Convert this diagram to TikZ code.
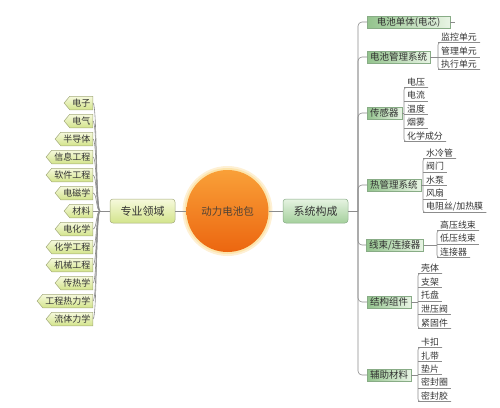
\documentclass[tikz,border=0pt]{standalone}
\usepackage{fontspec}
\setmainfont{Noto Sans CJK SC}
\usetikzlibrary{shapes.symbols}
\definecolor{lineg}{HTML}{8C8C8C}
\definecolor{txt}{HTML}{333333}
\definecolor{leaftop}{HTML}{F6F9DC}
\definecolor{leafbot}{HTML}{D3E48C}
\definecolor{leafdraw}{HTML}{A4AC7C}
\definecolor{sysL}{HTML}{E6F3E2}
\definecolor{sysD}{HTML}{A4D09C}
\definecolor{sysdraw}{HTML}{88AC86}
\definecolor{catL}{HTML}{93C38D}
\definecolor{catR}{HTML}{E8F4E4}
\definecolor{orT}{HTML}{F9A038}
\definecolor{orB}{HTML}{EC6610}
\tikzset{
  conn/.style={draw=lineg, line width=0.6pt},
  leaf/.style={signal, signal to=west, signal pointer angle=100, anchor=east,
    top color=leaftop, bottom color=leafbot, draw=leafdraw, line width=0.5pt,
    inner xsep=2.5pt, inner ysep=1pt, minimum height=13.5pt, text=txt,
    font=\fontsize{9}{10}\selectfont},
  midbox/.style={rectangle, rounded corners=3pt, top color=leaftop, bottom color=leafbot,
    draw=leafdraw, line width=0.5pt, minimum width=65pt, minimum height=24pt, text=txt,
    font=\fontsize{11}{12}\selectfont},
  sysbox/.style={rectangle, rounded corners=3pt, top color=sysL, bottom color=sysD,
    draw=sysdraw, line width=0.5pt, minimum width=65pt, minimum height=24pt, text=txt,
    font=\fontsize{11}{12}\selectfont},
  core/.style={circle, minimum size=82pt, top color=orT, bottom color=orB, text=txt!80!brown,
    font=\fontsize{10.5}{12}\selectfont},
  cat/.style={rectangle, anchor=west, left color=catL, right color=catR, draw=sysdraw,
    line width=0.4pt, inner xsep=3pt, inner ysep=1pt, minimum height=12pt, text=txt,
    font=\fontsize{9.5}{10}\selectfont},
  sub/.style={anchor=south west, inner xsep=3pt, inner ysep=1.2pt, text=txt,
    font=\fontsize{8.9}{10}\selectfont}
}
\begin{document}
\begin{tikzpicture}[x=1pt,y=-1pt]
\useasboundingbox (0,0) rectangle (500,407);
% halo
\fill[yellow!30!orange!15] (227.5,211) circle (45);
\fill[yellow!40!orange!30] (227.5,211) circle (43);
\node[core] (core) at (227.5,211) {动力电池包};
\node[midbox] (zy) at (142.5,211) {专业领域};
\node[sysbox] (xt) at (315.5,211) {系统构成};
\draw[conn] (zy.east) -- (core.west);
\draw[conn] (core.east) -- (xt.west);
\coordinate (LJ) at (100,211);
\coordinate (RJ) at (358,211);
\draw[conn] (zy.west) -- (LJ);
\draw[conn] (xt.east) -- (RJ);
% left leaves
\foreach \t/\y [count=\i] in {电子/103,电气/121,半导体/139,信息工程/157,软件工程/175,电磁学/193,材料/211,电化学/229,化学工程/247,机械工程/265,传热学/283,工程热力学/301,流体力学/319}{
  \node[leaf] (L\i) at (93,\y) {\t};
  \draw[conn] (LJ) .. controls (96,211) and (97,\y) .. (L\i.east);
}
% right categories
\node[cat, minimum width=83pt] (c1) at (367,22) {电池单体(电芯)};
\node[cat] (c2) at (367,57) {电池管理系统};
\node[cat] (c3) at (367,113) {传感器};
\node[cat] (c4) at (367,185) {热管理系统};
\node[cat] (c5) at (366,245) {线束/连接器};
\node[cat] (c6) at (367,302) {结构组件};
\node[cat] (c7) at (367,375) {辅助材料};
\foreach \i in {1,...,7}{
  \draw[conn, rounded corners=4pt] (RJ) |- (c\i.west);
}
\draw[conn] (c1.east) -- ++(5,0);
% children
\newcommand{\subgroup}[3]{% #1 group name, #2 bracket x, #3 list text/y
  \foreach \t/\y [count=\k] in {#3}{
    \node[sub] (#1s\k) at (#2,\y) {\t};
    \draw[conn] (#1s\k.south west) -- (#1s\k.south east);
  }
}
\subgroup{b}{438}{监控单元/42.5,管理单元/57,执行单元/69.5}
\draw[conn, rounded corners=2.5pt] (bs1.south east) -- (bs1.south west) -- (bs3.south west) -- (bs3.south east);
\draw[conn] (c2.east) -- (c2.east -| bs1.south west);
\subgroup{s}{404}{电压/87.5,电流/101,温度/114.5,烟雾/128,化学成分/141.5}
\draw[conn, rounded corners=2.5pt] (ss1.south east) -- (ss1.south west) -- (ss5.south west) -- (ss5.south east);
\draw[conn] (c3.east) -- (c3.east -| ss1.south west);
\subgroup{h}{423}{水冷管/158.5,阀门/172,水泵/185.5,风扇/199,{电阻丝/加热膜}/212.5}
\draw[conn, rounded corners=2.5pt] (hs1.south east) -- (hs1.south west) -- (hs5.south west) -- (hs5.south east);
\draw[conn] (c4.east) -- (c4.east -| hs1.south west);
\subgroup{w}{437}{高压线束/230.5,低压线束/244,连接器/257.5}
\draw[conn, rounded corners=2.5pt] (ws1.south east) -- (ws1.south west) -- (ws3.south west) -- (ws3.south east);
\draw[conn] (c5.east) -- (c5.east -| ws1.south west);
\subgroup{j}{418}{壳体/273.5,支架/287.5,托盘/301,泄压阀/314.5,紧固件/328.5}
\draw[conn, rounded corners=2.5pt] (js1.south east) -- (js1.south west) -- (js5.south west) -- (js5.south east);
\draw[conn] (c6.east) -- (c6.east -| js1.south west);
\subgroup{f}{418}{卡扣/347.5,扎带/361.5,垫片/374.5,密封圈/388,密封胶/401.5}
\draw[conn, rounded corners=2.5pt] (fs1.south east) -- (fs1.south west) -- (fs5.south west) -- (fs5.south east);
\draw[conn] (c7.east) -- (c7.east -| fs1.south west);
\end{tikzpicture}
\end{document}
